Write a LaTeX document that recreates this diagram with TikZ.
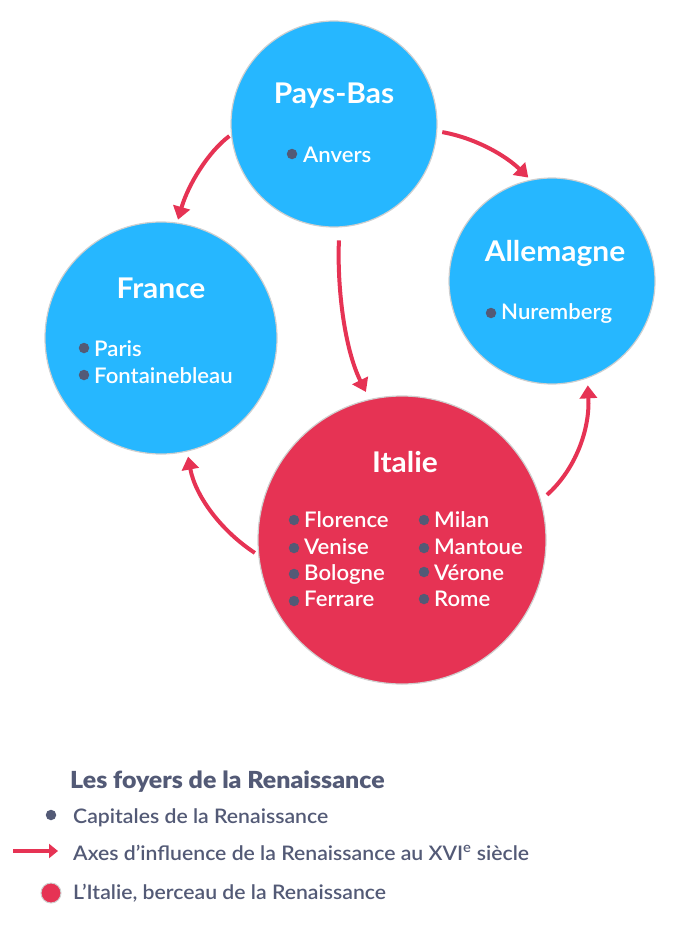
\documentclass[tikz,border=0pt]{standalone}
\usepackage{fontspec}
\setmainfont{Lato}
\newfontfamily\medf[FakeStretch=1.03]{Lato Semibold}
\newfontfamily\legf[FakeStretch=1.06]{Lato Semibold}
\newfontfamily\heaf[FakeStretch=1.05]{Lato Bold}
\usetikzlibrary{arrows.meta}
\definecolor{skyc}{HTML}{26B7FF}
\definecolor{redc}{HTML}{E63354}
\definecolor{inkc}{HTML}{535A76}
\definecolor{ringc}{HTML}{CFCFCF}
\tikzset{
  foyer/.style={circle,draw=ringc,line width=1.2pt,inner sep=0pt,minimum size=#1},
  head/.style={text=white,anchor=base,font=\heaf\fontsize{28.5}{28.5}\selectfont,inner sep=0pt},
  town/.style={text=white,anchor=base west,font=\medf\fontsize{21.5}{21.5}\selectfont,inner sep=0pt},
  dotm/.style={circle,fill=inkc,inner sep=0pt,minimum size=10.5pt},
  axis/.style={draw=redc,line width=4pt,-{Triangle[length=13pt,width=17pt]}},
  legt/.style={text=inkc,anchor=base west,font=\legf\fontsize{20}{20}\selectfont,inner sep=0pt}
}
\begin{document}
\begin{tikzpicture}[x=1pt,y=-1pt]
\useasboundingbox (0,0) rectangle (700,947);
\node[foyer=206pt,fill=skyc] (pb) at (334,124) {};
\node[foyer=232pt,fill=skyc] (fr) at (161,338) {};
\node[foyer=206pt,fill=skyc] (al) at (552,281) {};
\node[foyer=288pt,fill=redc] (it) at (402,540) {};
\node[head] (pbh) at (334,104) {Pays-Bas};
\node[head] (frh) at (161,298) {France};
\node[head] (alh) at (555,261) {Allemagne};
\node[head] (ith) at (405,472) {Italie};
\node[dotm] (d1) at (292,154) {}; \node[town] (t1) at (303,162) {Anvers};
\node[dotm] (d2) at (84,348) {}; \node[town] (t2) at (94,356) {Paris};
\node[dotm] (d3) at (84,375) {}; \node[town] (t3) at (94,383) {Fontainebleau};
\node[dotm] (d4) at (491,313) {}; \node[town] (t4) at (501,319) {Nuremberg};
\node[dotm] (d5) at (294,520) {}; \node[town] (t5) at (304,527) {Florence};
\node[dotm] (d6) at (294,548) {}; \node[town] (t6) at (304,554) {Venise};
\node[dotm] (d7) at (294,574) {}; \node[town] (t7) at (304,580) {Bologne};
\node[dotm] (d8) at (294,601) {}; \node[town] (t8) at (304,606) {Ferrare};
\node[dotm] (d9) at (424,520) {}; \node[town] (t9) at (434,527) {Milan};
\node[dotm] (d10) at (424,548) {}; \node[town] (t10) at (434,554) {Mantoue};
\node[dotm] (d11) at (424,572) {}; \node[town] (t11) at (434,580) {Vérone};
\node[dotm] (d12) at (424,599) {}; \node[town] (t12) at (434,606) {Rome};
\draw[axis,shorten <=2pt,shorten >=3pt] (pb.186.5) .. controls (208,152) and (188,185) .. (fr.82);
\draw[axis,shorten <=5pt,shorten >=3pt] (pb.-4) .. controls (475,138) and (505,155) .. (al.102.5);
\draw[axis,shorten <=13pt,shorten >=8pt] (pb.-87) .. controls (337,290) and (345,350) .. (it.103);
\draw[axis,shorten <=4pt,shorten >=5pt] (it.186) .. controls (220,530) and (195,495) .. (fr.-77);
\draw[axis,shorten <=8pt,shorten >=7pt] (it.16.4) .. controls (575,470) and (590,430) .. (al.-70);
\node[text=inkc,anchor=base west,inner sep=0pt,font=\legf\bfseries\fontsize{23.5}{23.5}\selectfont] (lt) at (70,788) {Les foyers de la Renaissance};
\node[dotm] (l1) at (51,815) {};
\node[legt] (l1t) at (73,823) {Capitales de la Renaissance};
\coordinate (l2a) at (13,851);
\coordinate (l2b) at (58,851);
\node[legt] (l2t) at (73,860) {Axes d’influence de la Renaissance au XVI\textsuperscript{e} siècle};
\draw[draw=redc,line width=3.4pt,-{Triangle[length=9pt,width=14pt]}] (l2a) -- (l2b);
\node[circle,fill=redc,draw=ringc,line width=1pt,minimum size=20pt,inner sep=0pt] (l3) at (51,893) {};
\node[legt] (l3t) at (73,899) {L’Italie, berceau de la Renaissance};
\end{tikzpicture}
\end{document}
